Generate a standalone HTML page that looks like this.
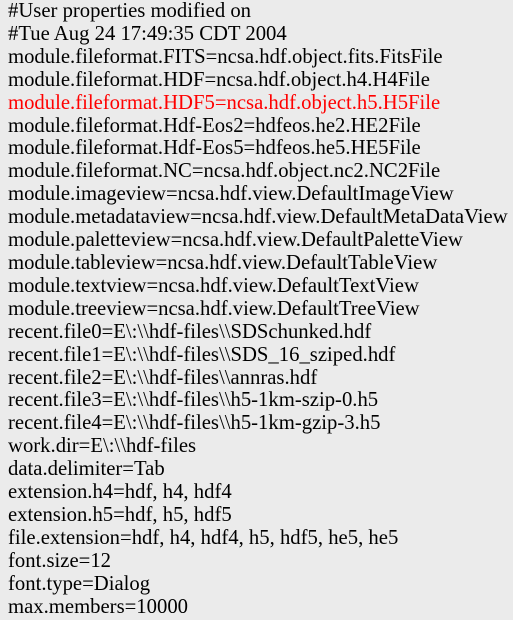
<!DOCTYPE html>
<html><head><meta charset="utf-8"><style>
html,body{margin:0;padding:0;width:513px;height:620px;background:#ebebeb;overflow:hidden}
.t{position:absolute;left:8px;top:0;font-family:"Liberation Serif",serif;font-size:20.7px;line-height:22.9px;color:#000;white-space:pre}
.r{color:#f00}
</style></head><body><div class="t">#User properties modified on
#Tue Aug 24 17:49:35 CDT 2004
module.fileformat.FITS=ncsa.hdf.object.fits.FitsFile
module.fileformat.HDF=ncsa.hdf.object.h4.H4File
<span class="r">module.fileformat.HDF5=ncsa.hdf.object.h5.H5File</span>
module.fileformat.Hdf-Eos2=hdfeos.he2.HE2File
module.fileformat.Hdf-Eos5=hdfeos.he5.HE5File
module.fileformat.NC=ncsa.hdf.object.nc2.NC2File
module.imageview=ncsa.hdf.view.DefaultImageView
module.metadataview=ncsa.hdf.view.DefaultMetaDataView
module.paletteview=ncsa.hdf.view.DefaultPaletteView
module.tableview=ncsa.hdf.view.DefaultTableView
module.textview=ncsa.hdf.view.DefaultTextView
module.treeview=ncsa.hdf.view.DefaultTreeView
recent.file0=E\:\\hdf-files\\SDSchunked.hdf
recent.file1=E\:\\hdf-files\\SDS_16_sziped.hdf
recent.file2=E\:\\hdf-files\\annras.hdf
recent.file3=E\:\\hdf-files\\h5-1km-szip-0.h5
recent.file4=E\:\\hdf-files\\h5-1km-gzip-3.h5
work.dir=E\:\\hdf-files
data.delimiter=Tab
extension.h4=hdf, h4, hdf4
extension.h5=hdf, h5, hdf5
file.extension=hdf, h4, hdf4, h5, hdf5, he5, he5
font.size=12
font.type=Dialog
max.members=10000</div></body></html>
